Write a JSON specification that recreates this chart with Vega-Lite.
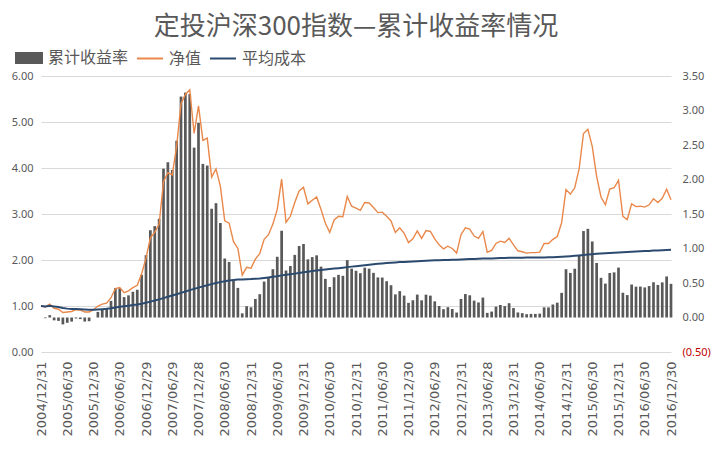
{
  "$schema": "https://vega.github.io/schema/vega-lite/v6.json",
  "description": "定投沪深300指数 累计收益率、净值与平均成本",
  "autosize": {"type": "none"},
  "padding": {"left": 41, "top": 76, "right": 47, "bottom": 103},
  "width": 630,
  "height": 276,
  "background": "white",
  "config": {
    "view": {"stroke": null},
    "font": "Noto Sans CJK SC"
  },
  "title": {
    "text": "定投沪深300指数—累计收益率情况",
    "font": "Noto Sans CJK SC",
    "fontSize": 26,
    "fontWeight": "normal",
    "color": "#595959",
    "anchor": "middle",
    "frame": "group",
    "offset": 4
  },
  "data": {
    "values": [
      {"date": "2004/12/31", "nav": 1.00, "cost": 1.000, "ret": 0.000},
      {"date": "2005/01/31", "nav": 0.98, "cost": 0.990, "ret": -0.010},
      {"date": "2005/02/28", "nav": 1.04, "cost": 1.006, "ret": 0.034},
      {"date": "2005/03/31", "nav": 0.95, "cost": 0.991, "ret": -0.041},
      {"date": "2005/04/29", "nav": 0.93, "cost": 0.978, "ret": -0.049},
      {"date": "2005/05/31", "nav": 0.86, "cost": 0.956, "ret": -0.100},
      {"date": "2005/06/30", "nav": 0.87, "cost": 0.943, "ret": -0.077},
      {"date": "2005/07/29", "nav": 0.88, "cost": 0.935, "ret": -0.059},
      {"date": "2005/08/31", "nav": 0.92, "cost": 0.933, "ret": -0.014},
      {"date": "2005/09/30", "nav": 0.91, "cost": 0.931, "ret": -0.023},
      {"date": "2005/10/31", "nav": 0.87, "cost": 0.925, "ret": -0.059},
      {"date": "2005/11/30", "nav": 0.87, "cost": 0.920, "ret": -0.054},
      {"date": "2005/12/30", "nav": 0.92, "cost": 0.920, "ret": 0.000},
      {"date": "2006/01/25", "nav": 1.00, "cost": 0.925, "ret": 0.081},
      {"date": "2006/02/28", "nav": 1.04, "cost": 0.932, "ret": 0.116},
      {"date": "2006/03/31", "nav": 1.06, "cost": 0.939, "ret": 0.129},
      {"date": "2006/04/28", "nav": 1.18, "cost": 0.951, "ret": 0.241},
      {"date": "2006/05/31", "nav": 1.38, "cost": 0.967, "ret": 0.427},
      {"date": "2006/06/30", "nav": 1.40, "cost": 0.983, "ret": 0.424},
      {"date": "2006/07/31", "nav": 1.29, "cost": 0.995, "ret": 0.296},
      {"date": "2006/08/31", "nav": 1.33, "cost": 1.007, "ret": 0.321},
      {"date": "2006/09/29", "nav": 1.40, "cost": 1.020, "ret": 0.373},
      {"date": "2006/10/31", "nav": 1.45, "cost": 1.034, "ret": 0.402},
      {"date": "2006/11/30", "nav": 1.70, "cost": 1.051, "ret": 0.618},
      {"date": "2006/12/29", "nav": 2.04, "cost": 1.072, "ret": 0.903},
      {"date": "2007/01/31", "nav": 2.48, "cost": 1.095, "ret": 1.265},
      {"date": "2007/02/28", "nav": 2.60, "cost": 1.119, "ret": 1.324},
      {"date": "2007/03/30", "nav": 2.78, "cost": 1.144, "ret": 1.430},
      {"date": "2007/04/30", "nav": 3.70, "cost": 1.172, "ret": 2.157},
      {"date": "2007/05/31", "nav": 3.90, "cost": 1.200, "ret": 2.250},
      {"date": "2007/06/29", "nav": 3.85, "cost": 1.227, "ret": 2.138},
      {"date": "2007/07/31", "nav": 4.47, "cost": 1.255, "ret": 2.562},
      {"date": "2007/08/31", "nav": 5.40, "cost": 1.285, "ret": 3.202},
      {"date": "2007/09/28", "nav": 5.60, "cost": 1.315, "ret": 3.259},
      {"date": "2007/10/31", "nav": 5.70, "cost": 1.345, "ret": 3.238},
      {"date": "2007/11/30", "nav": 4.75, "cost": 1.372, "ret": 2.462},
      {"date": "2007/12/28", "nav": 5.35, "cost": 1.400, "ret": 2.821},
      {"date": "2008/01/31", "nav": 4.60, "cost": 1.426, "ret": 2.226},
      {"date": "2008/02/29", "nav": 4.65, "cost": 1.452, "ret": 2.202},
      {"date": "2008/03/31", "nav": 3.80, "cost": 1.475, "ret": 1.576},
      {"date": "2008/04/30", "nav": 3.98, "cost": 1.498, "ret": 1.657},
      {"date": "2008/05/30", "nav": 3.60, "cost": 1.519, "ret": 1.370},
      {"date": "2008/06/30", "nav": 2.85, "cost": 1.536, "ret": 0.855},
      {"date": "2008/07/31", "nav": 2.80, "cost": 1.552, "ret": 0.804},
      {"date": "2008/08/29", "nav": 2.40, "cost": 1.564, "ret": 0.535},
      {"date": "2008/09/26", "nav": 2.25, "cost": 1.574, "ret": 0.429},
      {"date": "2008/10/31", "nav": 1.67, "cost": 1.576, "ret": 0.060},
      {"date": "2008/11/28", "nav": 1.84, "cost": 1.581, "ret": 0.164},
      {"date": "2008/12/31", "nav": 1.82, "cost": 1.585, "ret": 0.148},
      {"date": "2009/01/23", "nav": 2.02, "cost": 1.592, "ret": 0.269},
      {"date": "2009/02/27", "nav": 2.14, "cost": 1.600, "ret": 0.338},
      {"date": "2009/03/31", "nav": 2.45, "cost": 1.611, "ret": 0.521},
      {"date": "2009/04/30", "nav": 2.55, "cost": 1.622, "ret": 0.572},
      {"date": "2009/05/27", "nav": 2.78, "cost": 1.635, "ret": 0.700},
      {"date": "2009/06/30", "nav": 3.10, "cost": 1.649, "ret": 0.880},
      {"date": "2009/07/31", "nav": 3.76, "cost": 1.666, "ret": 1.257},
      {"date": "2009/08/31", "nav": 2.82, "cost": 1.678, "ret": 0.681},
      {"date": "2009/09/30", "nav": 2.95, "cost": 1.690, "ret": 0.746},
      {"date": "2009/10/30", "nav": 3.25, "cost": 1.704, "ret": 0.907},
      {"date": "2009/11/30", "nav": 3.50, "cost": 1.719, "ret": 1.036},
      {"date": "2009/12/31", "nav": 3.58, "cost": 1.734, "ret": 1.065},
      {"date": "2010/01/29", "nav": 3.22, "cost": 1.747, "ret": 0.843},
      {"date": "2010/02/26", "nav": 3.30, "cost": 1.760, "ret": 0.875},
      {"date": "2010/03/31", "nav": 3.37, "cost": 1.773, "ret": 0.901},
      {"date": "2010/04/30", "nav": 3.10, "cost": 1.785, "ret": 0.737},
      {"date": "2010/05/31", "nav": 2.80, "cost": 1.795, "ret": 0.560},
      {"date": "2010/06/30", "nav": 2.60, "cost": 1.803, "ret": 0.442},
      {"date": "2010/07/30", "nav": 2.87, "cost": 1.813, "ret": 0.583},
      {"date": "2010/08/31", "nav": 2.95, "cost": 1.823, "ret": 0.618},
      {"date": "2010/09/30", "nav": 2.94, "cost": 1.833, "ret": 0.604},
      {"date": "2010/10/29", "nav": 3.38, "cost": 1.845, "ret": 0.832},
      {"date": "2010/11/30", "nav": 3.17, "cost": 1.856, "ret": 0.708},
      {"date": "2010/12/31", "nav": 3.13, "cost": 1.866, "ret": 0.677},
      {"date": "2011/01/31", "nav": 3.08, "cost": 1.876, "ret": 0.642},
      {"date": "2011/02/28", "nav": 3.25, "cost": 1.887, "ret": 0.722},
      {"date": "2011/03/31", "nav": 3.24, "cost": 1.897, "ret": 0.708},
      {"date": "2011/04/29", "nav": 3.14, "cost": 1.907, "ret": 0.647},
      {"date": "2011/05/31", "nav": 3.03, "cost": 1.916, "ret": 0.581},
      {"date": "2011/06/30", "nav": 3.04, "cost": 1.925, "ret": 0.579},
      {"date": "2011/07/29", "nav": 2.95, "cost": 1.933, "ret": 0.526},
      {"date": "2011/08/31", "nav": 2.85, "cost": 1.941, "ret": 0.468},
      {"date": "2011/09/30", "nav": 2.60, "cost": 1.947, "ret": 0.335},
      {"date": "2011/10/31", "nav": 2.70, "cost": 1.954, "ret": 0.382},
      {"date": "2011/11/30", "nav": 2.58, "cost": 1.959, "ret": 0.317},
      {"date": "2011/12/30", "nav": 2.38, "cost": 1.963, "ret": 0.212},
      {"date": "2012/01/31", "nav": 2.46, "cost": 1.968, "ret": 0.250},
      {"date": "2012/02/29", "nav": 2.63, "cost": 1.974, "ret": 0.332},
      {"date": "2012/03/30", "nav": 2.47, "cost": 1.978, "ret": 0.249},
      {"date": "2012/04/27", "nav": 2.64, "cost": 1.984, "ret": 0.331},
      {"date": "2012/05/31", "nav": 2.62, "cost": 1.989, "ret": 0.317},
      {"date": "2012/06/29", "nav": 2.46, "cost": 1.993, "ret": 0.234},
      {"date": "2012/07/31", "nav": 2.33, "cost": 1.996, "ret": 0.167},
      {"date": "2012/08/31", "nav": 2.24, "cost": 1.999, "ret": 0.121},
      {"date": "2012/09/28", "nav": 2.30, "cost": 2.002, "ret": 0.149},
      {"date": "2012/10/31", "nav": 2.25, "cost": 2.004, "ret": 0.123},
      {"date": "2012/11/30", "nav": 2.15, "cost": 2.005, "ret": 0.072},
      {"date": "2012/12/31", "nav": 2.55, "cost": 2.010, "ret": 0.269},
      {"date": "2013/01/31", "nav": 2.70, "cost": 2.015, "ret": 0.340},
      {"date": "2013/02/28", "nav": 2.67, "cost": 2.020, "ret": 0.322},
      {"date": "2013/03/29", "nav": 2.52, "cost": 2.024, "ret": 0.245},
      {"date": "2013/04/26", "nav": 2.47, "cost": 2.028, "ret": 0.218},
      {"date": "2013/05/31", "nav": 2.62, "cost": 2.032, "ret": 0.289},
      {"date": "2013/06/28", "nav": 2.17, "cost": 2.033, "ret": 0.067},
      {"date": "2013/07/31", "nav": 2.21, "cost": 2.035, "ret": 0.086},
      {"date": "2013/08/30", "nav": 2.36, "cost": 2.038, "ret": 0.158},
      {"date": "2013/09/30", "nav": 2.41, "cost": 2.041, "ret": 0.181},
      {"date": "2013/10/31", "nav": 2.38, "cost": 2.043, "ret": 0.165},
      {"date": "2013/11/29", "nav": 2.47, "cost": 2.047, "ret": 0.207},
      {"date": "2013/12/31", "nav": 2.33, "cost": 2.049, "ret": 0.137},
      {"date": "2014/01/30", "nav": 2.20, "cost": 2.050, "ret": 0.073},
      {"date": "2014/02/28", "nav": 2.18, "cost": 2.051, "ret": 0.063},
      {"date": "2014/03/31", "nav": 2.15, "cost": 2.052, "ret": 0.048},
      {"date": "2014/04/30", "nav": 2.16, "cost": 2.053, "ret": 0.052},
      {"date": "2014/05/30", "nav": 2.16, "cost": 2.054, "ret": 0.052},
      {"date": "2014/06/30", "nav": 2.17, "cost": 2.055, "ret": 0.056},
      {"date": "2014/07/31", "nav": 2.36, "cost": 2.057, "ret": 0.147},
      {"date": "2014/08/29", "nav": 2.36, "cost": 2.060, "ret": 0.146},
      {"date": "2014/09/30", "nav": 2.45, "cost": 2.062, "ret": 0.188},
      {"date": "2014/10/31", "nav": 2.51, "cost": 2.065, "ret": 0.215},
      {"date": "2014/11/28", "nav": 2.81, "cost": 2.070, "ret": 0.357},
      {"date": "2014/12/31", "nav": 3.53, "cost": 2.077, "ret": 0.700},
      {"date": "2015/01/30", "nav": 3.43, "cost": 2.084, "ret": 0.646},
      {"date": "2015/02/27", "nav": 3.57, "cost": 2.091, "ret": 0.707},
      {"date": "2015/03/31", "nav": 3.98, "cost": 2.099, "ret": 0.896},
      {"date": "2015/04/30", "nav": 4.75, "cost": 2.108, "ret": 1.253},
      {"date": "2015/05/29", "nav": 4.84, "cost": 2.118, "ret": 1.285},
      {"date": "2015/06/30", "nav": 4.47, "cost": 2.127, "ret": 1.102},
      {"date": "2015/07/31", "nav": 3.82, "cost": 2.134, "ret": 0.790},
      {"date": "2015/08/31", "nav": 3.37, "cost": 2.140, "ret": 0.575},
      {"date": "2015/09/30", "nav": 3.20, "cost": 2.146, "ret": 0.491},
      {"date": "2015/10/30", "nav": 3.54, "cost": 2.152, "ret": 0.645},
      {"date": "2015/11/30", "nav": 3.57, "cost": 2.158, "ret": 0.654},
      {"date": "2015/12/31", "nav": 3.73, "cost": 2.165, "ret": 0.723},
      {"date": "2016/01/29", "nav": 2.95, "cost": 2.170, "ret": 0.359},
      {"date": "2016/02/29", "nav": 2.88, "cost": 2.174, "ret": 0.325},
      {"date": "2016/03/31", "nav": 3.22, "cost": 2.179, "ret": 0.478},
      {"date": "2016/04/29", "nav": 3.16, "cost": 2.184, "ret": 0.447},
      {"date": "2016/05/31", "nav": 3.17, "cost": 2.189, "ret": 0.448},
      {"date": "2016/06/30", "nav": 3.15, "cost": 2.194, "ret": 0.436},
      {"date": "2016/07/29", "nav": 3.20, "cost": 2.198, "ret": 0.456},
      {"date": "2016/08/31", "nav": 3.33, "cost": 2.204, "ret": 0.511},
      {"date": "2016/09/30", "nav": 3.25, "cost": 2.208, "ret": 0.472},
      {"date": "2016/10/31", "nav": 3.34, "cost": 2.214, "ret": 0.509},
      {"date": "2016/11/30", "nav": 3.54, "cost": 2.220, "ret": 0.595},
      {"date": "2016/12/30", "nav": 3.31, "cost": 2.225, "ret": 0.488}
    ]
  },
  "encoding": {
    "x": {
      "field": "date",
      "type": "ordinal",
      "sort": null,
      "scale": {"type": "point", "padding": 0},
      "axis": {
        "title": null,
        "values": ["2004/12/31", "2005/06/30", "2005/12/30", "2006/06/30", "2006/12/29", "2007/06/29", "2007/12/28", "2008/06/30", "2008/12/31", "2009/06/30", "2009/12/31", "2010/06/30", "2010/12/31", "2011/06/30", "2011/12/30", "2012/06/29", "2012/12/31", "2013/06/28", "2013/12/31", "2014/06/30", "2014/12/31", "2015/06/30", "2015/12/31", "2016/06/30", "2016/12/30"],
        "labelAngle": -90,
        "labelFont": "DejaVu Sans",
        "labelFontSize": 13,
        "labelColor": "#595959",
        "labelPadding": 9,
        "ticks": false,
        "domain": false,
        "grid": false
      }
    }
  },
  "layer": [
    {
      "mark": {"type": "bar", "width": 2.7, "color": "#595959"},
      "encoding": {
        "y": {
          "field": "ret",
          "type": "quantitative",
          "scale": {"domain": [-0.5, 3.5], "nice": false, "zero": false},
          "axis": {
            "orient": "right",
            "title": null,
            "values": [-0.5, 0, 0.5, 1, 1.5, 2, 2.5, 3, 3.5],
            "labelExpr": "datum.value < 0 ? '(' + format(-datum.value, '.2f') + ')' : format(datum.value, '.2f')",
            "labelColor": {"condition": {"test": "datum.value < 0", "value": "#C00000"}, "value": "#595959"},
            "labelFont": "Noto Sans",
            "labelFontSize": 11,
            "labelPadding": 11,
            "grid": false,
            "domain": false,
            "ticks": false
          }
        },
        "color": {
          "datum": "累计收益率",
          "type": "nominal",
          "scale": {
            "domain": ["累计收益率", "净值", "平均成本"],
            "range": ["#595959", "#E9884A", "#2B4A6F"]
          },
          "legend": {
            "orient": "none",
            "legendX": -26,
            "legendY": -32,
            "direction": "horizontal",
            "title": null,
            "labelFont": "Noto Sans CJK SC",
            "labelFontSize": 16,
            "labelColor": "#595959",
            "labelOffset": 5,
            "columnPadding": 4,
            "symbolSize": 676,
            "symbolType": "stroke",
            "symbolStrokeWidth": 2,
            "encode": {
              "symbols": {
                "update": {
                  "shape": {"signal": "datum.value === '累计收益率' ? 'M-1,-0.38H1V0.38H-1Z' : 'stroke'"},
                  "fill": {"signal": "datum.value === '累计收益率' ? '#595959' : 'transparent'"},
                  "stroke": {"signal": "datum.value === '累计收益率' ? 'transparent' : (datum.value === '净值' ? '#E9884A' : '#2B4A6F')"},
                  "strokeWidth": {"value": 2},
                  "opacity": {"value": 1}
                }
              }
            }
          }
        }
      }
    },
    {
      "encoding": {
        "y": {
          "type": "quantitative",
          "scale": {"domain": [0, 6], "nice": false},
          "axis": {
            "orient": "left",
            "title": null,
            "values": [0, 1, 2, 3, 4, 5, 6],
            "format": ".2f",
            "labelFont": "Noto Sans",
            "labelFontSize": 11,
            "labelColor": "#595959",
            "labelPadding": 8,
            "grid": true,
            "gridColor": "#D9D9D9",
            "gridWidth": 1,
            "domain": false,
            "ticks": false
          }
        }
      },
      "layer": [
        {
          "mark": {"type": "line", "strokeWidth": 1.4},
          "encoding": {
            "y": {"field": "nav"},
            "color": {"datum": "净值", "type": "nominal"}
          }
        },
        {
          "mark": {"type": "line", "strokeWidth": 2},
          "encoding": {
            "y": {"field": "cost"},
            "color": {"datum": "平均成本", "type": "nominal"}
          }
        }
      ]
    }
  ],
  "resolve": {"scale": {"y": "independent"}, "axis": {"y": "independent"}}
}
